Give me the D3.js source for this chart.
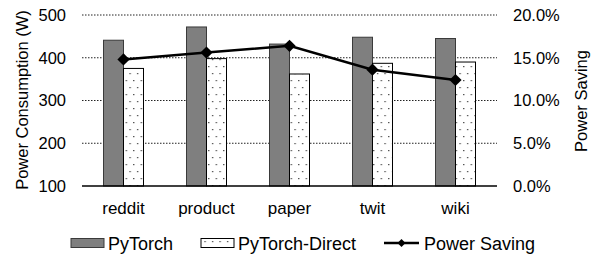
<!DOCTYPE html>
<html>
<head>
<meta charset="utf-8">
<script src="https://cdn.jsdelivr.net/npm/d3@7"></script>
<style>
  html, body { margin: 0; padding: 0; background: #fff; }
  svg { display: block; font-family: "Liberation Sans", Arial, sans-serif; }
</style>
</head>
<body>
<svg id="chart" width="597" height="257"></svg>
<script>
const categories = ['reddit', 'product', 'paper', 'twit', 'wiki'];
const pytorch = [441, 472, 432, 448, 445];
const pytorchDirect = [375, 398, 362, 387, 390];
const powerSaving = [0.148, 0.156, 0.164, 0.136, 0.124];
const leftTicks = [100, 200, 300, 400, 500];
const rightTicks = [0, 0.05, 0.10, 0.15, 0.20];

const svg = d3.select('#chart');
const plot = { left: 82, right: 497, top: 15, bottom: 186 };

const x = d3.scaleBand().domain(categories).range([plot.left, plot.right]);
const yL = d3.scaleLinear().domain([100, 500]).range([plot.bottom, plot.top]);
const yR = d3.scaleLinear().domain([0, 0.2]).range([plot.bottom, plot.top]);
const barW = 20;

// dotted fill for PyTorch-Direct
const defs = svg.append('defs');
const pat = defs.append('pattern')
  .attr('id', 'dots')
  .attr('patternUnits', 'userSpaceOnUse')
  .attr('width', 7.5).attr('height', 14);
pat.append('rect').attr('width', 7.5).attr('height', 14).attr('fill', '#fff');
pat.append('rect').attr('x', 2).attr('y', 3).attr('width', 1.2).attr('height', 1.2).attr('fill', '#333');
pat.append('rect').attr('x', 5.7).attr('y', 10).attr('width', 1.2).attr('height', 1.2).attr('fill', '#333');

// gridlines
svg.append('g')
  .selectAll('line')
  .data(leftTicks.slice(1))
  .enter().append('line')
  .attr('x1', plot.left).attr('x2', plot.right)
  .attr('y1', d => yL(d)).attr('y2', d => yL(d))
  .attr('stroke', '#222').attr('stroke-width', 1)
  .attr('stroke-dasharray', '1.5,1.5');

// left axis labels
const axL = svg.append('g')
  .attr('transform', `translate(${plot.left},0)`)
  .call(d3.axisLeft(yL).tickValues(leftTicks).tickSize(0).tickPadding(16));
axL.attr('font-family', null).attr('font-size', 16.5);
axL.select('.domain').remove();
axL.selectAll('text').attr('fill', '#000');

// right axis labels
const axR = svg.append('g')
  .attr('transform', `translate(${plot.right},0)`)
  .call(d3.axisRight(yR).tickValues(rightTicks).tickSize(0).tickPadding(16)
    .tickFormat(d3.format('.1%')));
axR.attr('font-family', null).attr('font-size', 16.5);
axR.select('.domain').remove();
axR.selectAll('text').attr('fill', '#000');

// bars
const groups = svg.append('g').selectAll('g')
  .data(categories)
  .enter().append('g');

groups.append('rect')
  .attr('x', d => x(d) + x.bandwidth() / 2 - barW)
  .attr('y', (d, i) => yL(pytorch[i]))
  .attr('width', barW)
  .attr('height', (d, i) => yL(100) - yL(pytorch[i]))
  .attr('fill', '#7f7f7f')
  .attr('stroke', '#3a3a3a').attr('stroke-width', 1);

groups.append('rect')
  .attr('x', d => x(d) + x.bandwidth() / 2)
  .attr('y', (d, i) => yL(pytorchDirect[i]))
  .attr('width', barW)
  .attr('height', (d, i) => yL(100) - yL(pytorchDirect[i]))
  .attr('fill', 'url(#dots)')
  .attr('stroke', '#000').attr('stroke-width', 1);

// x axis line
svg.append('line')
  .attr('x1', plot.left).attr('x2', plot.right)
  .attr('y1', plot.bottom).attr('y2', plot.bottom)
  .attr('stroke', '#000').attr('stroke-width', 1.5);

// category labels
svg.append('g').selectAll('text')
  .data(categories)
  .enter().append('text')
  .attr('x', d => x(d) + x.bandwidth() / 2)
  .attr('y', 214)
  .attr('text-anchor', 'middle')
  .attr('font-size', 17)
  .text(d => d);

// power saving line
const line = d3.line()
  .x((d, i) => x(categories[i]) + x.bandwidth() / 2)
  .y(d => yR(d));
svg.append('path')
  .datum(powerSaving)
  .attr('d', line)
  .attr('fill', 'none')
  .attr('stroke', '#000').attr('stroke-width', 2.5);

const diamond = d3.symbol().type(d3.symbolDiamond2).size(95);
svg.append('g').selectAll('path')
  .data(powerSaving)
  .enter().append('path')
  .attr('transform', (d, i) => `translate(${x(categories[i]) + x.bandwidth() / 2},${yR(d)})`)
  .attr('d', diamond)
  .attr('fill', '#000');

// axis titles
svg.append('text')
  .attr('transform', 'translate(28,100) rotate(-90)')
  .attr('text-anchor', 'middle')
  .attr('font-size', 16.5)
  .text('Power Consumption (W)');

svg.append('text')
  .attr('transform', 'translate(587,101) rotate(-90)')
  .attr('text-anchor', 'middle')
  .attr('font-size', 16.5)
  .text('Power Saving');

// legend
const lg = svg.append('g');
const ly = 243;
lg.append('rect').attr('x', 71).attr('y', ly - 4.5).attr('width', 33).attr('height', 9)
  .attr('fill', '#7f7f7f').attr('stroke', '#3a3a3a');
lg.append('text').attr('x', 108).attr('y', ly + 6.5).attr('font-size', 18).text('PyTorch');

lg.append('rect').attr('x', 201).attr('y', ly - 4.5).attr('width', 33).attr('height', 9)
  .attr('fill', 'url(#dots)').attr('stroke', '#000');
lg.append('text').attr('x', 238).attr('y', ly + 6.5).attr('font-size', 18).text('PyTorch-Direct');

lg.append('line').attr('x1', 384).attr('x2', 419).attr('y1', ly).attr('y2', ly)
  .attr('stroke', '#000').attr('stroke-width', 2.5);
lg.append('path').attr('transform', `translate(401.5,${ly})`)
  .attr('d', d3.symbol().type(d3.symbolDiamond2).size(40)).attr('fill', '#000');
lg.append('text').attr('x', 424).attr('y', ly + 6.5).attr('font-size', 18).text('Power Saving');
</script>
</body>
</html>
